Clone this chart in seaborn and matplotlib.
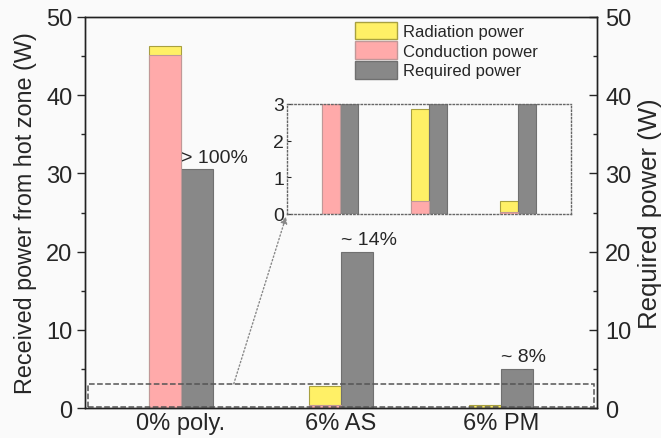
import matplotlib
matplotlib.use("Agg")
import matplotlib.pyplot as plt
import seaborn as sns
import pandas as pd
from matplotlib.patches import Rectangle, Patch
from matplotlib.ticker import MultipleLocator

categories = ["0% poly.", "6% AS", "6% PM"]
conduction = [45.1, 0.35, 0.05]
radiation = [1.2, 2.5, 0.30]
required = [30.5, 20.0, 5.0]
annotations = ["> 100%", "~ 14%", "~ 8%"]

YELLOW = "#fff066"
PINK = "#ffaaaa"
GRAY = "#888888"
EDGES = {YELLOW: "#a8a040", PINK: "#c09898", GRAY: "#707070"}
BG = "#fafafa"

sns.set_style("ticks")
plt.rcParams["font.family"] = ["Liberation Sans", "DejaVu Sans"]

total = [c + r for c, r in zip(conduction, radiation)]
df_top = pd.DataFrame({
    "cat": categories * 2,
    "val": total + required,
    "series": ["Received"] * 3 + ["Required"] * 3,
})
df_cond = pd.DataFrame({
    "cat": categories * 2,
    "val": conduction + [0.0] * 3,
    "series": ["Received"] * 3 + ["Required"] * 3,
})

fig = plt.figure(figsize=(6.61, 4.39), dpi=100, facecolor=BG)
ax = fig.add_axes([0.1286, 0.0683, 0.7744, 0.8907], facecolor=BG)
axins = fig.add_axes([0.434, 0.5103, 0.430, 0.2506], facecolor=BG)


def draw(a):
    sns.barplot(data=df_top, x="cat", y="val", hue="series", order=categories,
                hue_order=["Received", "Required"],
                palette={"Received": YELLOW, "Required": GRAY},
                width=0.4, dodge=True, saturation=1, legend=False, ax=a,
                errorbar=None)
    sns.barplot(data=df_cond, x="cat", y="val", hue="series", order=categories,
                hue_order=["Received", "Required"],
                palette={"Received": PINK, "Required": GRAY},
                width=0.4, dodge=True, saturation=1, legend=False, ax=a,
                errorbar=None)
    for p in a.patches:
        if p.get_height() == 0:
            p.set_visible(False)
            continue
        fc = matplotlib.colors.to_hex(p.get_facecolor())
        p.set_edgecolor(EDGES.get(fc, "#777777"))
        p.set_linewidth(0.8)
    a.set_xlim(-0.6, 2.6)


draw(ax)
draw(axins)

ax.set_ylim(0, 50)
ax.yaxis.set_major_locator(MultipleLocator(10))
ax.yaxis.set_minor_locator(MultipleLocator(5))
ax.tick_params(axis="y", which="both", direction="out", labelsize=17, length=6, width=1, pad=3)
ax.tick_params(axis="y", which="minor", length=3)
ax.tick_params(axis="x", length=0, labelsize=17, pad=3)
ax.set_xlabel("")
ax.set_ylabel("Received power from hot zone (W)", fontsize=16.8, labelpad=7)
for s in ax.spines.values():
    s.set_visible(True)
    s.set_linewidth(1.0)
    s.set_color("#222222")

ax2 = ax.twinx()
ax2.set_ylim(0, 50)
ax2.yaxis.set_major_locator(MultipleLocator(10))
ax2.yaxis.set_minor_locator(MultipleLocator(5))
ax2.tick_params(axis="y", which="both", direction="in", labelsize=17, length=6, width=1, pad=6)
ax2.tick_params(axis="y", which="minor", length=3)
ax2.set_ylabel("Required power (W)", fontsize=18.5, rotation=90, labelpad=5)
for s in ax2.spines.values():
    s.set_linewidth(1.0)
    s.set_color("#222222")

# percentage annotations above the required bars
for i, (txt, r) in enumerate(zip(annotations, required)):
    ax.text(i, r + 0.5, txt, fontsize=14, ha="left", va="bottom")

# dashed zoom region
ax.add_patch(Rectangle((-0.58, 0.1), 3.16, 3.0, fill=False, linestyle="--",
                       edgecolor="#555555", linewidth=1.1, zorder=5))

# arrow to inset
ax.annotate("", xy=(0, 0), xycoords=axins.transAxes, xytext=(0.33, 3.1),
            textcoords="data",
            arrowprops=dict(arrowstyle="-|>", linestyle=":", color="#888888",
                            lw=1.0, mutation_scale=10, shrinkA=0, shrinkB=2))

# inset formatting
axins.set_ylim(0, 3)
axins.set_yticks([0, 1, 2, 3])
axins.tick_params(axis="y", direction="in", length=3, labelsize=14, pad=2)
axins.tick_params(axis="x", length=0, labelbottom=False)
axins.set_xlabel("")
axins.set_ylabel("")
for s in axins.spines.values():
    s.set_visible(True)
    s.set_linestyle(":")
    s.set_color("#666666")
    s.set_linewidth(1.0)

# legend
handles = [Patch(facecolor=YELLOW, edgecolor=EDGES[YELLOW], label="Radiation power"),
           Patch(facecolor=PINK, edgecolor=EDGES[PINK], label="Conduction power"),
           Patch(facecolor=GRAY, edgecolor=EDGES[GRAY], label="Required power")]
fig.legend(handles=handles, loc="upper left", bbox_to_anchor=(0.537, 0.948),
           frameon=False, fontsize=12, handlelength=2.5, handleheight=1.25,
           labelspacing=0.12, handletextpad=0.4, borderpad=0, borderaxespad=0)

fig.savefig("out.png", dpi=100, facecolor=BG)
